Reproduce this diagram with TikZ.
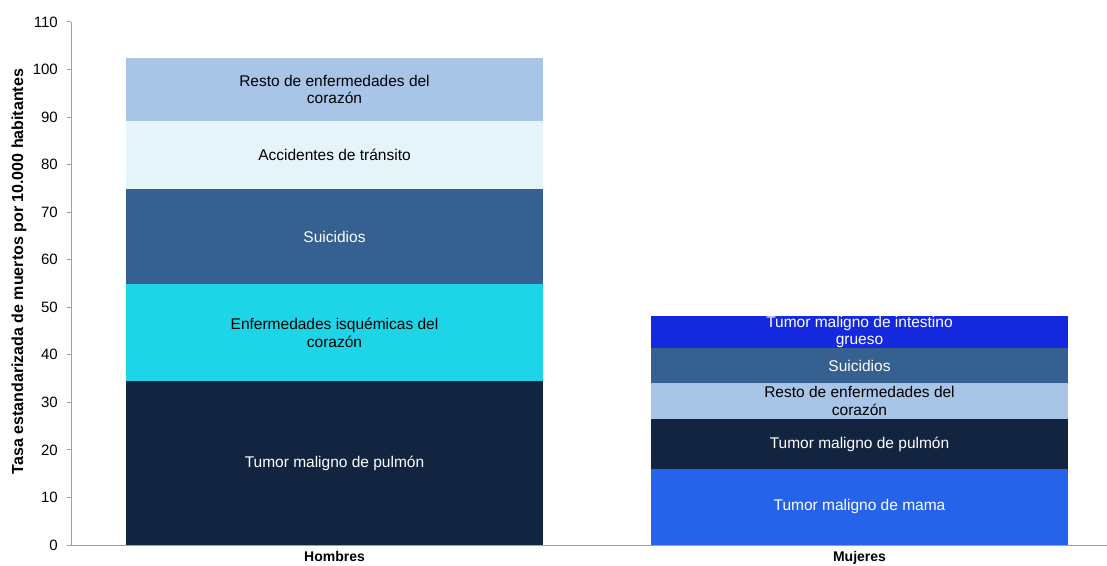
\documentclass[tikz,border=0pt]{standalone}
\usepackage{fontspec}
\setmainfont{Liberation Sans}
\usepackage{tikz}
\usetikzlibrary{positioning}

\definecolor{pulmon}{HTML}{12243F}
\definecolor{isquemia}{HTML}{1ED5E7}
\definecolor{suicidio}{HTML}{36608F}
\definecolor{transito}{HTML}{E4F4F9}
\definecolor{corazon}{HTML}{A8C5E8}
\definecolor{mama}{HTML}{2563EB}
\definecolor{intestino}{HTML}{1429DE}
\definecolor{ejegris}{HTML}{A0A0A0}

\newcommand{\vu}{4.755pt}

\begin{document}
\begin{tikzpicture}[x=1pt,y=1pt,
	seg/.style={rectangle,inner sep=0pt,outer sep=0pt,minimum width=417pt,align=center,font=\fontsize{15.5}{17.5}\selectfont},
	axis/.style={draw=ejegris,line width=1pt},
	ticklbl/.style={anchor=east,inner sep=2pt,font=\fontsize{15}{17}\selectfont},
	cat/.style={inner sep=0pt,font=\fontsize{14}{16}\selectfont\bfseries}]
\useasboundingbox (-71,-20) rectangle (1036,545);

\node	[seg,fill=pulmon,text=white,minimum height=34.5*\vu,anchor=south]	(h1)	at (263.5,0)		{Tumor maligno de pulmón};
\node	[seg,fill=isquemia,minimum height=20.3*\vu]		(h2)	[above=0pt of h1]	{Enfermedades isquémicas del\\corazón};
\node	[seg,fill=suicidio,text=white,minimum height=20.0*\vu]	(h3)	[above=0pt of h2]	{Suicidios};
\node	[seg,fill=transito,minimum height=14.4*\vu]		(h4)	[above=0pt of h3]	{Accidentes de tránsito};
\node	[seg,fill=corazon,minimum height=13.3*\vu]		(h5)	[above=0pt of h4]	{Resto de enfermedades del\\corazón};

\node	[seg,fill=mama,text=white,minimum height=16.0*\vu,anchor=south]	(m1)	at (788.5,0)		{Tumor maligno de mama};
\node	[seg,fill=pulmon,text=white,minimum height=10.5*\vu]	(m2)	[above=0pt of m1]	{Tumor maligno de pulmón};
\node	[seg,fill=corazon,minimum height=7.6*\vu]		(m3)	[above=0pt of m2]	{Resto de enfermedades del\\corazón};
\node	[seg,fill=suicidio,text=white,minimum height=7.3*\vu]	(m4)	[above=0pt of m3]	{Suicidios};
\node	[seg,fill=intestino,text=white,minimum height=6.8*\vu]	(m5)	[above=0pt of m4]	{Tumor maligno de intestino\\grueso};

\coordinate (o) at (0,0);
\coordinate (ytop) at (0,523);
\coordinate (xend) at (1036,0);
\draw	[axis]	(o) -- (ytop);
\draw	[axis]	(o) -- (xend);
\foreach \v in {0,10,...,110}
{
	\draw	[axis]	(-4,\v*4.755) -- (0,\v*4.755);
	\node	[ticklbl]	(t\v)	at (-11,\v*4.755)	{\v};
}

\node	[cat]	(hlab)	[below=6pt of h1]	{Hombres};
\node	[cat]	(mlab)	[below=6pt of m1]	{Mujeres};
\node	[rotate=90,inner sep=0pt,font=\fontsize{16}{18}\selectfont\bfseries]	(ytitle)	at (-52,273.5)	{Tasa estandarizada de muertos por 10.000 habitantes};
\end{tikzpicture}
\end{document}
